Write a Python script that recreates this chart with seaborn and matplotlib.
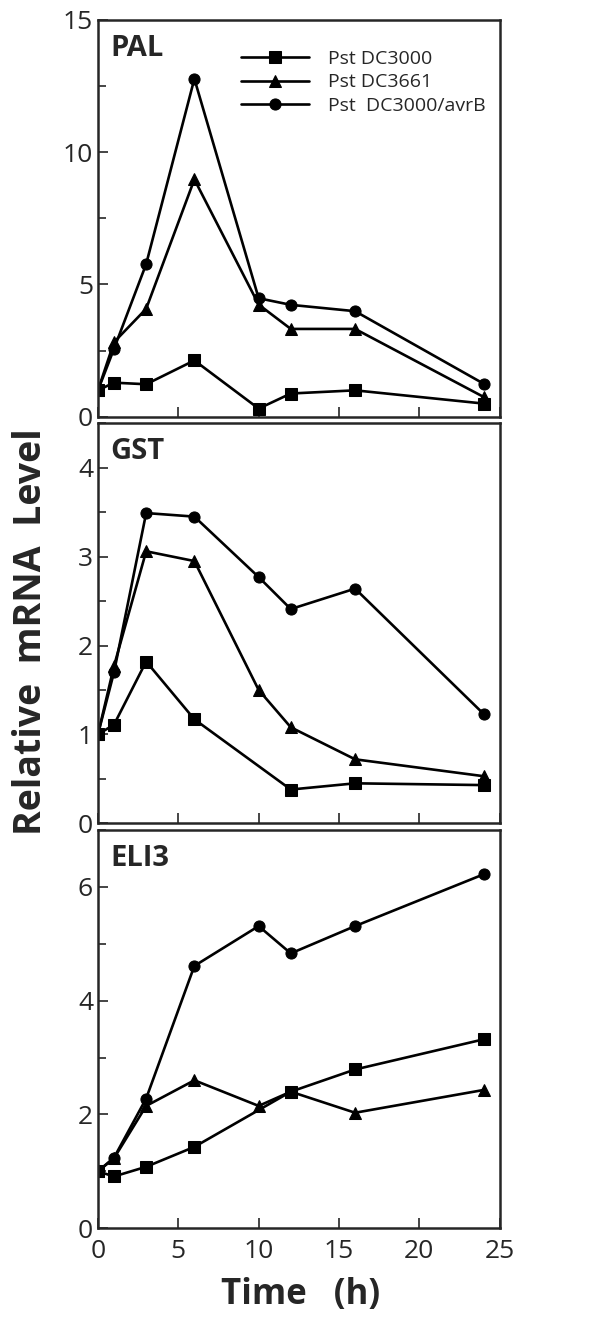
import numpy as np
import pandas as pd
import matplotlib
matplotlib.use('Agg')
import matplotlib.pyplot as plt
import seaborn as sns
from matplotlib.ticker import MultipleLocator

# Data
time_h = [0, 1, 3, 6, 10, 12, 16, 24]
strains = ['Pst DC3000', 'Pst DC3661', 'Pst  DC3000/avrB']

pal_dc3000 = [1.0, 1.29, 1.23, 2.13, 0.31, 0.88, 1.0, 0.5]
pal_dc3661 = [1.0, 2.82, 4.08, 8.97, 4.24, 3.32, 3.32, 0.75]
pal_avrb = [1.0, 2.57, 5.77, 12.77, 4.48, 4.23, 3.99, 1.25]

gst_dc3000 = [1.0, 1.11, 1.82, 1.17, np.nan, 0.38, 0.45, 0.43]
gst_dc3661 = [1.0, 1.77, 3.06, 2.95, 1.5, 1.08, 0.72, 0.53]
gst_avrb = [1.0, 1.70, 3.49, 3.45, 2.77, 2.41, 2.64, 1.23]

eli3_dc3000 = [1.0, 0.91, 1.08, 1.43, np.nan, 2.4, 2.79, 3.32]
eli3_dc3661 = [1.0, 1.23, 2.15, 2.6, 2.15, 2.4, 2.03, 2.43]
eli3_avrb = [1.0, 1.24, 2.28, 4.61, 5.31, 4.83, 5.31, 6.22]

genes = ['PAL', 'GST', 'ELI3']
series = {
    'PAL': [pal_dc3000, pal_dc3661, pal_avrb],
    'GST': [gst_dc3000, gst_dc3661, gst_avrb],
    'ELI3': [eli3_dc3000, eli3_dc3661, eli3_avrb],
}
y_max = {'PAL': 15, 'GST': 4.5, 'ELI3': 7}
y_label_step = {'PAL': 5, 'GST': 1, 'ELI3': 2}
y_tick_step = {'PAL': 2.5, 'GST': 0.5, 'ELI3': 1}

rows = []
for gene in genes:
    for strain, vals in zip(strains, series[gene]):
        for t, v in zip(time_h, vals):
            rows.append({'gene': gene, 'strain': strain, 'time': t, 'level': v})
df = pd.DataFrame(rows).dropna()

sns.set_style('ticks')
plt.rcParams['font.family'] = ['Open Sans', 'DejaVu Sans']

fig = plt.figure(figsize=(5.9, 13.19), dpi=100)
positions = {
    'PAL': [0.166, 0.684, 0.681, 0.301],
    'GST': [0.166, 0.3758, 0.681, 0.3033],
    'ELI3': [0.166, 0.0688, 0.681, 0.302],
}
markers = {'Pst DC3000': 's', 'Pst DC3661': '^', 'Pst  DC3000/avrB': 'o'}

for gene in genes:
    ax = fig.add_axes(positions[gene])
    sub = df[df['gene'] == gene]
    sns.lineplot(data=sub, x='time', y='level', style='strain', style_order=strains,
                 markers=markers, dashes=False, color='black', linewidth=1.9,
                 markersize=8, markeredgecolor='black', ax=ax,
                 legend=(gene == 'PAL'))
    ax.set_xlim(0, 25)
    ax.set_ylim(0, y_max[gene])
    ax.xaxis.set_major_locator(MultipleLocator(5))
    ax.yaxis.set_major_locator(MultipleLocator(y_label_step[gene]))
    ax.yaxis.set_minor_locator(MultipleLocator(y_tick_step[gene]))
    ax.tick_params(which='both', direction='in', top=False, right=False,
                   labelsize=19, width=1.2)
    ax.tick_params(which='major', length=7)
    ax.tick_params(which='minor', length=6)
    ax.tick_params(axis='x', pad=8)
    ax.set_xlabel('')
    ax.set_ylabel('')
    for s in ax.spines.values():
        s.set_linewidth(1.8)
    if gene != 'ELI3':
        ax.tick_params(axis='x', labelbottom=False)
    ax.text(0.03, 0.965, gene, transform=ax.transAxes, fontsize=21,
            fontweight='bold', va='top', ha='left')
    if gene == 'PAL':
        ax.legend(loc='upper left', bbox_to_anchor=(0.355, 0.925), frameon=False,
                  fontsize=14, handlelength=3.5, handletextpad=1.0,
                  labelspacing=0.3, borderaxespad=0, borderpad=0)

fig.text(0.052, 0.521, 'Relative  mRNA  Level', rotation=90, ha='center',
         va='center', fontsize=27, fontweight='bold')
fig.text(0.51, 0.018, 'Time   (h)', ha='center', va='center', fontsize=25,
         fontweight='bold')

fig.savefig('out.png', dpi=100)
